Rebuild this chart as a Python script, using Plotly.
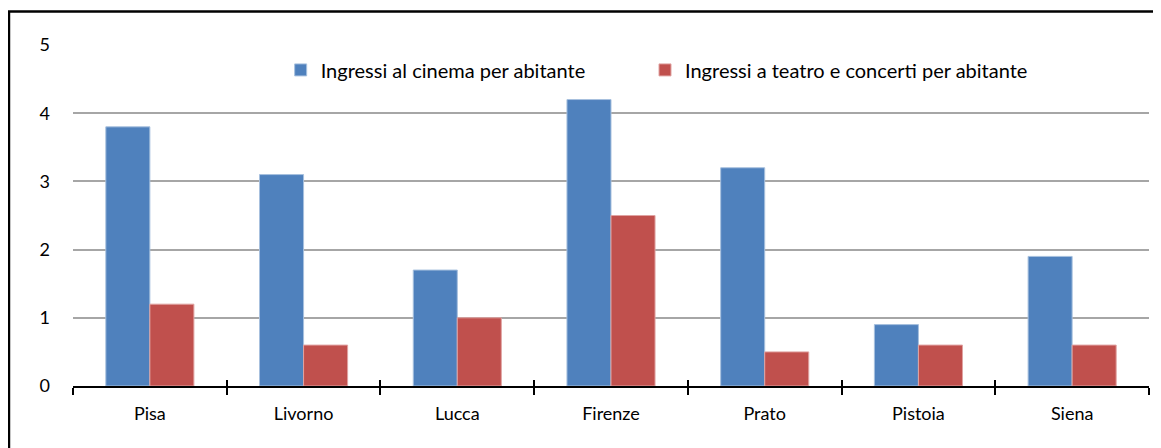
import plotly.graph_objects as go

province = ["Pisa", "Livorno", "Lucca", "Firenze", "Prato", "Pistoia", "Siena"]
cinema = [3.8, 3.1, 1.7, 4.2, 3.2, 0.9, 1.9]
teatro = [1.2, 0.6, 1.0, 2.5, 0.5, 0.6, 0.6]

nome_cinema = "Ingressi al cinema per abitante"
nome_teatro = "Ingressi a teatro e concerti per abitante"

blu = "#4F81BD"
rosso = "#C0504D"

fig = go.Figure()

fig.add_trace(go.Bar(x=province, y=cinema, name=nome_cinema, legend="legend",
                     marker=dict(color=blu, line=dict(color="#a7c0de", width=1)),
                     hoverinfo="none"))
fig.add_trace(go.Bar(x=province, y=teatro, name=nome_teatro, legend="legend2",
                     marker=dict(color=rosso, line=dict(color="#e0a3a2", width=1)),
                     hoverinfo="none"))

# second x axis only to get ticks crossing the axis line (inside part)
fig.add_trace(go.Scatter(x=province, y=[None] * len(province), xaxis="x2",
                         showlegend=False, hoverinfo="none"))

# frame around the chart (right and bottom fall outside the picture)
fig.add_shape(type="rect", xref="paper", yref="paper",
              x0=-0.0595, x1=1.2, y0=-0.5, y1=1.098,
              line=dict(color="black", width=2.5), layer="above")

leg = dict(orientation="h", y=0.927, xanchor="left", yanchor="middle",
           bgcolor="rgba(0,0,0,0)", font=dict(size=20), itemwidth=30)

fig.update_layout(
    width=1161, height=448,
    margin=dict(l=65, r=20, t=37, b=70),
    plot_bgcolor="white", paper_bgcolor="white",
    font=dict(family="Lato, Open Sans, Arial", size=18, color="black"),
    barmode="group",
    bargap=0.427,
    bargroupgap=0,
    legend=dict(leg, x=0.193),
    legend2=dict(leg, x=0.5316),
    xaxis=dict(type="category", showline=True, linecolor="black", linewidth=1.5,
               ticks="outside", ticklen=7, tickcolor="black", tickwidth=1.5,
               tickson="boundaries", showgrid=False, zeroline=False,
               ticklabelstandoff=11),
    xaxis2=dict(type="category", overlaying="x", matches="x", side="bottom",
                anchor="y", ticks="inside", ticklen=6, tickcolor="black",
                tickwidth=1.5, tickson="boundaries", showticklabels=False,
                showgrid=False, showline=False, zeroline=False),
    yaxis=dict(range=[0, 5], dtick=1, showgrid=True, gridcolor="#a6a6a6",
               gridwidth=1.5, showline=False, zeroline=False,
               ticks="", ticklabelstandoff=22),
)

fig.write_html("out.html")
